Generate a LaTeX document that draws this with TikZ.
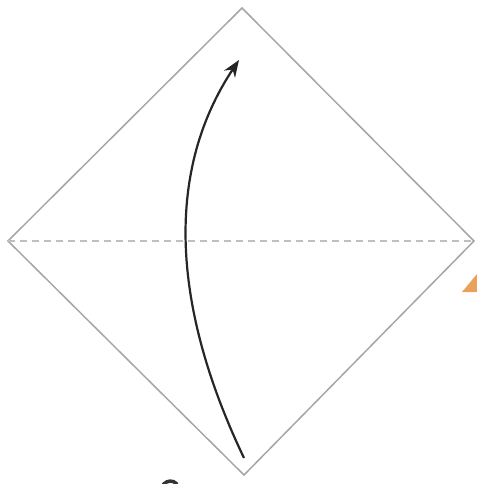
\documentclass[tikz,border=0pt]{standalone}
\usetikzlibrary{arrows.meta}
\definecolor{tri}{HTML}{E8A25C}
\begin{document}
\begin{tikzpicture}[x=1pt,y=-1pt,
  edge/.style={draw=gray!70, line width=1.5pt},
  fold/.style={draw=gray!50, line width=1.4pt, dash pattern=on 7pt off 5pt},
  arr/.style={draw=black!85, line width=2.2pt, -{Stealth[length=17pt,width=13pt]}}]
\useasboundingbox (0,0) rectangle (476,484);
\coordinate (T) at (242,8);
\coordinate (L) at (8,241);
\coordinate (R) at (474,241);
\coordinate (B) at (244,475);
\draw[edge, line join=miter] (T) -- (R) -- (B) -- (L) -- cycle;
\draw[fold] (L) -- (R);
\coordinate (s) at (244,458);
\coordinate (e) at (239,60);
\draw[arr] (s) .. controls (169,301) and (167,168) .. (e);
\fill[tri] (462,292) -- (477,274) -- (477,292) -- cycle;
\coordinate (c0) at (162,487);
\draw[black!80, line width=3.5pt] (c0) arc[start angle=160, end angle=40, radius=9pt];
\end{tikzpicture}
\end{document}
